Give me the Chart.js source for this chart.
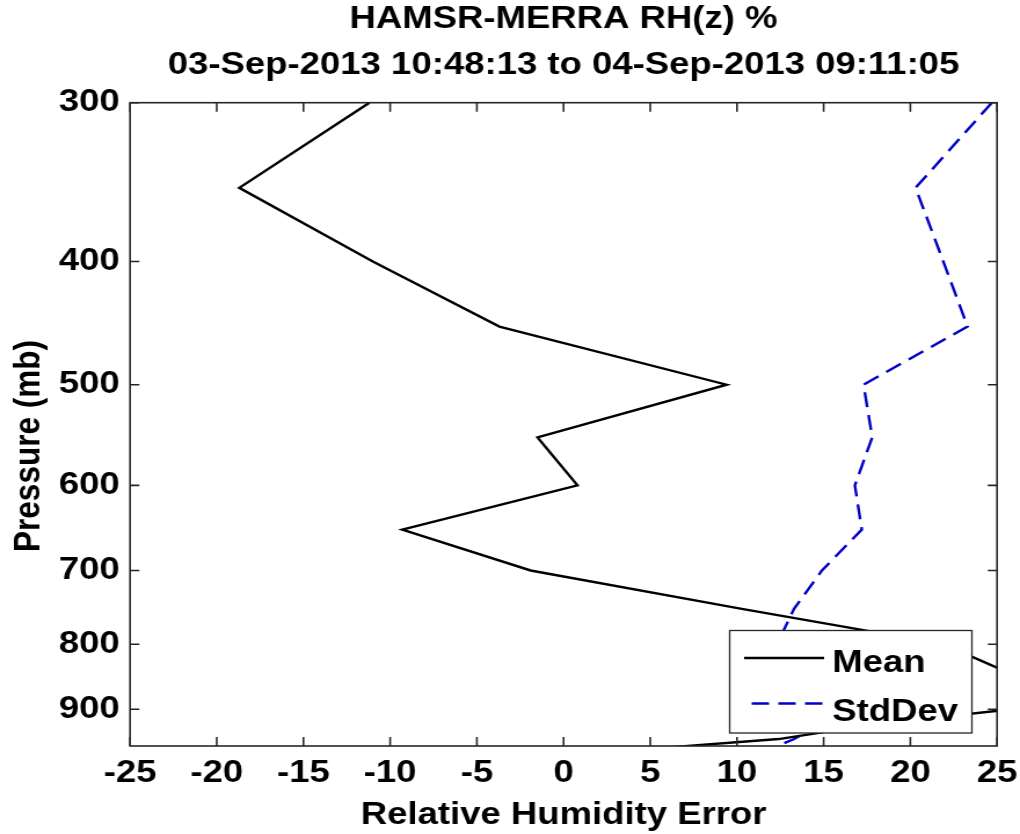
<!DOCTYPE html>
<html>
<head>
<meta charset="utf-8">
<script src="https://cdn.jsdelivr.net/npm/chart.js@4.4.1/dist/chart.umd.min.js"></script>
<style>
  html, body { margin: 0; padding: 0; background: #fff; }
</style>
</head>
<body>
<!-- the original picture is stretched sideways, so the canvas is drawn 880 wide and shown 1020 wide -->
<canvas id="rh" width="880" height="834" style="display:block;width:1020px;height:834px"></canvas>
<script>
// pressure levels (mb) and the two profiles
const pressure = [300, 350, 400, 450, 500, 550, 600, 650, 700, 750, 800, 850, 900, 925, 950, 975]
const meanErr  = [-11.2, -18.7, -11.0, -3.7, 9.4, -1.5, 0.8, -9.3, -1.9, 10.2, 21.9, 26.3, 25.9, 17.9, 12.4, 1.5]
const stdDev   = [24.7, 20.3, 21.9, 23.3, 17.3, 17.8, 16.8, 17.2, 14.9, 13.3, 12.3, 12.6, 13.6, 14.8, 13.3, 11.3]
const yTicks = [300, 400, 500, 600, 700, 800, 900]
const titleLines = ['HAMSR-MERRA RH(z) %', '03-Sep-2013 10:48:13 to 04-Sep-2013 09:11:05']

const FAMILY = "'Liberation Sans', Arial, Helvetica, sans-serif"
const FSIZE = 31.5
const font = { family: FAMILY, size: FSIZE, weight: 'bold' }

function toPoints(vals) {
    return vals.map((v, i) => ({ x: v, y: pressure[i] }))
}

// box round the axes with inward ticks on all four sides
const frame = {
    id: 'frame',
    afterDraw(chart) {
        const { ctx, chartArea: a, scales: { x, y } } = chart
        ctx.save()
        ctx.strokeStyle = '#262626'
        ctx.lineWidth = 1.6
        ctx.strokeRect(a.left, a.top, a.right - a.left, a.bottom - a.top)
        ctx.beginPath()
        for (let t of x.ticks) {
            let px = x.getPixelForValue(t.value)
            ctx.moveTo(px, a.bottom); ctx.lineTo(px, a.bottom - 9)
            ctx.moveTo(px, a.top); ctx.lineTo(px, a.top + 9)
        }
        for (let t of y.ticks) {
            let py = y.getPixelForValue(t.value)
            ctx.moveTo(a.left, py); ctx.lineTo(a.left + 8, py)
            ctx.moveTo(a.right, py); ctx.lineTo(a.right - 8, py)
        }
        ctx.stroke()

        // y label sits a bit below the middle of the axis in the original
        ctx.translate(25.5, 446)
        ctx.rotate(-Math.PI / 2)
        ctx.font = 'bold ' + FSIZE + 'px ' + FAMILY
        ctx.fillStyle = '#000'
        ctx.textAlign = 'center'
        ctx.textBaseline = 'middle'
        ctx.fillText('Pressure (mb)', 0, 0)
        ctx.restore()
    }
}

// matlab style legend box in the lower right corner
const boxLegend = {
    id: 'boxLegend',
    afterDatasetsDraw(chart) {
        const ctx = chart.ctx
        const sets = chart.data.datasets
        ctx.save()
        ctx.fillStyle = '#fff'
        ctx.fillRect(629.5, 630.5, 209, 102.5)
        ctx.strokeStyle = '#262626'
        ctx.lineWidth = 1.3
        ctx.strokeRect(629.5, 630.5, 209, 102.5)
        const rows = [
            { ds: sets[0], lx: 642, ly: 658, ty: 672 },
            { ds: sets[1], lx: 648.5, ly: 703.5, ty: 721 }
        ]
        ctx.font = 'bold ' + FSIZE + 'px ' + FAMILY
        ctx.textBaseline = 'alphabetic'
        for (let r of rows) {
            ctx.beginPath()
            ctx.setLineDash(r.ds.borderDash || [])
            ctx.strokeStyle = r.ds.borderColor
            ctx.lineWidth = r.ds.borderWidth
            ctx.moveTo(r.lx, r.ly)
            ctx.lineTo(711, r.ly)
            ctx.stroke()
            ctx.setLineDash([])
            ctx.fillStyle = '#000'
            ctx.fillText(r.ds.label, 718, r.ty)
        }
        ctx.restore()
    }
}

// invisible grid, only kept so the tick length gives the label gap
const hiddenGrid = { display: true, drawOnChartArea: false, drawTicks: true, tickLength: 6,
                     color: 'rgba(0,0,0,0)', tickColor: 'rgba(0,0,0,0)' }

const cvs = document.getElementById('rh')
new Chart(cvs, {
    type: 'scatter',
    data: {
        datasets: [
            {
                label: 'Mean',
                data: toPoints(meanErr),
                showLine: true,
                borderColor: '#000',
                borderWidth: 2.4,
                pointRadius: 0,
                tension: 0
            },
            {
                label: 'StdDev',
                data: toPoints(stdDev),
                showLine: true,
                borderColor: '#0000c8',
                borderWidth: 2.4,
                borderDash: [15, 8],
                pointRadius: 0,
                tension: 0
            }
        ]
    },
    options: {
        responsive: false,
        animation: false,
        devicePixelRatio: 1,
        layout: { padding: { top: 0, left: 0, right: 19.8, bottom: 0 } },
        plugins: {
            legend: { display: false },
            tooltip: { enabled: false },
            title: {
                display: true,
                fullSize: false,
                text: titleLines,
                color: '#000',
                font: { family: FAMILY, size: FSIZE, weight: 'bold', lineHeight: 46 / FSIZE },
                padding: { top: -4, bottom: 14.7 }
            }
        },
        scales: {
            x: {
                type: 'linear',
                position: 'bottom',
                min: -25,
                max: 25,
                ticks: { stepSize: 5, padding: 2, font: font, color: '#000', maxRotation: 0, autoSkip: false },
                grid: hiddenGrid,
                border: { display: false },
                title: { display: true, text: 'Relative Humidity Error', color: '#000', font: font, padding: 0 },
                afterFit: s => { s.height = 88 }
            },
            y: {
                type: 'logarithmic',
                position: 'left',
                reverse: true,
                min: 300,
                max: 962,
                afterBuildTicks: s => { s.ticks = yTicks.map(v => ({ value: v })) },
                ticks: { padding: 9, font: font, color: '#000', autoSkip: false, callback: v => String(v) },
                grid: { display: false, drawTicks: false },
                border: { display: false },
                afterFit: s => { s.width = 112.2 }
            }
        }
    },
    plugins: [boxLegend, frame]
})
cvs.style.width = '1020px'
cvs.style.height = '834px'
</script>
</body>
</html>
